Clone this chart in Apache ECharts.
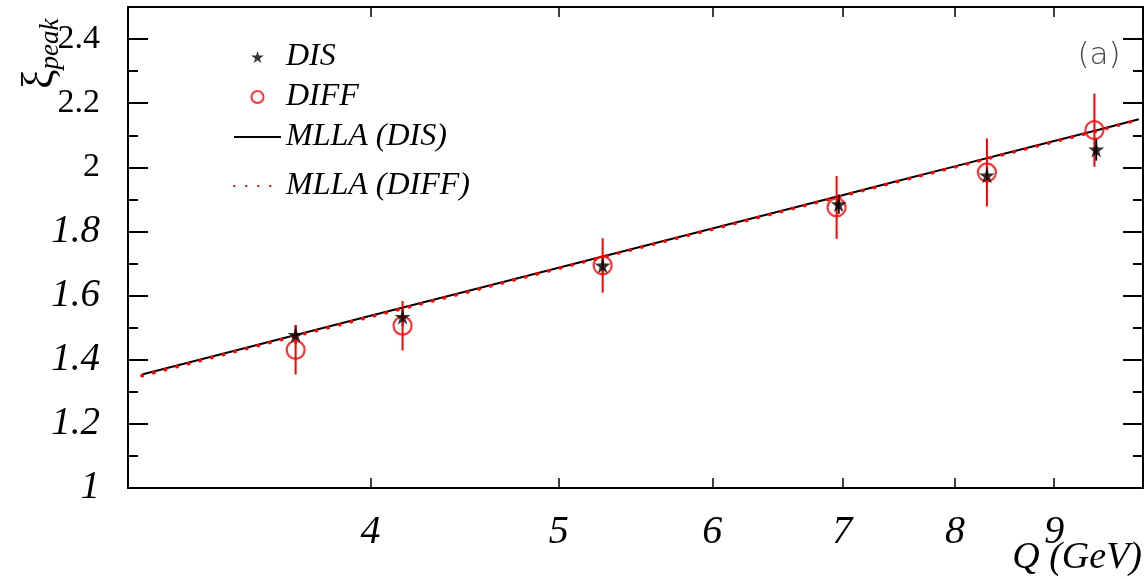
<!DOCTYPE html>
<html><head><meta charset="utf-8">
<script src="https://cdn.jsdelivr.net/npm/echarts@6/dist/echarts.min.js"></script>
<style>html,body{margin:0;padding:0;background:#fff}#c{width:1147px;height:579px}</style>
</head><body><div id="c"></div>
<script>
// ---- data ----
const qDis = [3.66, 4.155, 5.268, 6.97, 8.31, 9.46];
const disY = [1.478, 1.534, 1.694, 1.885, 1.975, 2.056];
const disErr = [0.03, 0.03, 0.03, 0.03, 0.03, 0.035];
const qDiff = [3.66, 4.155, 5.268, 6.953, 8.31, 9.44];
const diffY = [1.431, 1.506, 1.694, 1.875, 1.984, 2.116];
const diffErr = [0.077, 0.077, 0.085, 0.098, 0.106, 0.114];
const qLine = [3.05, 3.5, 4, 4.5, 5, 5.5, 6, 6.5, 7, 7.5, 8, 8.5, 9, 9.5, 9.95];
const mllaDis = [1.354, 1.447, 1.537, 1.616, 1.687, 1.751, 1.809, 1.863, 1.913, 1.960, 2.003, 2.044, 2.082, 2.118, 2.150];
const mllaDiff = [1.350, 1.444, 1.534, 1.613, 1.685, 1.749, 1.807, 1.861, 1.911, 1.958, 2.001, 2.042, 2.080, 2.116, 2.149];
const xTicks = [4, 5, 6, 7, 8, 9];
const yMajor = [1, 1.2, 1.4, 1.6, 1.8, 2, 2.2, 2.4];
const yMinor = [1.1, 1.3, 1.5, 1.7, 1.9, 2.1, 2.3];

const SERIF = '"Liberation Serif","DejaVu Serif",serif';
const STAR = 'path://M50,0 L61,35 L98,35 L68,57 L79,91 L50,70 L21,91 L32,57 L2,35 L39,35 Z';

const chart = echarts.init(document.getElementById('c'));

function xAx(pos, showLabel) {
  return {
    type: 'log', logBase: 10, min: 3, max: 10, position: pos,
    axisLine: {show: true, onZero: false, lineStyle: {color: '#000', width: 2}},
    axisTick: {show: true, inside: true, length: 10, customValues: xTicks, lineStyle: {color: '#000', width: 1.5}},
    minorTick: {show: false},
    splitLine: {show: false},
    axisLabel: {show: showLabel, customValues: xTicks, margin: 24, color: '#000',
      fontFamily: SERIF, fontStyle: 'italic', fontSize: 40}
  };
}
function yAx(pos, ticks, len, showLabel, showLine) {
  return {
    type: 'value', min: 1, max: 2.5, position: pos,
    axisLine: {show: showLine, onZero: false, lineStyle: {color: '#000', width: 2}},
    axisTick: {show: true, inside: true, length: len, customValues: ticks, lineStyle: {color: '#000', width: 2}},
    splitLine: {show: false},
    axisLabel: {show: showLabel, customValues: ticks, margin: 28,
      formatter: function (v) {
        const s = String(Math.round(v * 10) / 10);
        return v >= 1.95 ? '{u|' + s + '}' : '{i|' + s + '}';
      },
      rich: {
        u: {fontFamily: SERIF, fontSize: 34, color: '#000'},
        i: {fontFamily: SERIF, fontSize: 39, fontStyle: 'italic', color: '#000'}
      }
    }
  };
}

function errRender(color) {
  return function (params, api) {
    const x = api.value(0);
    const p1 = api.coord([x, api.value(1)]);
    const p2 = api.coord([x, api.value(2)]);
    return {type: 'line', shape: {x1: p1[0], y1: p1[1], x2: p2[0], y2: p2[1]},
      style: {stroke: color, lineWidth: 2}};
  };
}

const disPts = qDis.map((q, i) => [q, disY[i]]);
const diffPts = qDiff.map((q, i) => [q, diffY[i]]);
const disBars = qDis.map((q, i) => [q, disY[i] - disErr[i], disY[i] + disErr[i]]);
const diffBars = qDiff.map((q, i) => [q, diffY[i] - diffErr[i], diffY[i] + diffErr[i]]);

const legendText = {fontFamily: SERIF, fontStyle: 'italic', fontSize: 32, color: '#000'};

chart.setOption({
  animation: false,
  backgroundColor: '#fff',
  grid: {left: 128, right: 4, top: 7, bottom: 91},
  xAxis: [xAx('bottom', true), xAx('top', false)],
  yAxis: [yAx('left', yMajor, 20, true, true), yAx('left', yMinor, 10, false, false),
          yAx('right', yMajor, 20, false, true), yAx('right', yMinor, 10, false, false)],
  legend: [{
    orient: 'vertical', left: 228, top: 36, itemWidth: 47, itemHeight: 12, itemGap: 8,
    data: ['DIS', 'DIFF', {name: 'MLLA (DIS)', itemStyle: {opacity: 0}}],
    textStyle: legendText
  }, {
    orient: 'vertical', left: 228, top: 165, itemWidth: 47, itemHeight: 12,
    data: [{name: 'MLLA (DIFF)', itemStyle: {opacity: 0}}],
    textStyle: legendText
  }],
  graphic: [
    {type: 'text', x: 40, y: 89, rotation: Math.PI / 2,
      style: {text: '{xi|ξ}{sub|peak}', align: 'left', verticalAlign: 'middle',
        rich: {xi: {fontFamily: SERIF, fontSize: 44, fill: '#000'},
               sub: {fontFamily: SERIF, fontSize: 27, fontStyle: 'italic', fill: '#000', padding: [22, 0, 0, 0]}}}},
    {type: 'text', x: 1142, y: 558,
      style: {text: 'Q (GeV)', align: 'right', verticalAlign: 'middle', fontFamily: SERIF,
        fontStyle: 'italic', fontSize: 38, fill: '#000'}},
    {type: 'text', x: 1099, y: 56,
      style: {text: '(a)', align: 'center', verticalAlign: 'middle', fontFamily: '"DejaVu Sans",sans-serif',
        fontWeight: 200, fontSize: 31, fill: '#444'}}
  ],
  series: [
    {name: 'MLLA (DIS)', type: 'line', data: qLine.map((q, i) => [q, mllaDis[i]]), symbol: 'none',
      lineStyle: {color: '#000', width: 2}, itemStyle: {color: '#000'}, z: 2},
    {name: 'MLLA (DIFF)', type: 'line', data: qLine.map((q, i) => [q, mllaDiff[i]]), symbol: 'none',
      lineStyle: {color: '#f00', width: 3.5, type: [0.5, 11.5], cap: 'round'}, itemStyle: {color: '#f00'}, z: 3},
    {name: 'disErr', type: 'custom', data: disBars, renderItem: errRender('#000'), z: 4, silent: true},
    {name: 'diffErr', type: 'custom', data: diffBars, renderItem: errRender('#f00'), z: 4, silent: true},
    {name: 'DIFF', type: 'scatter', data: diffPts, symbol: 'circle', symbolSize: 18,
      itemStyle: {color: 'transparent', borderColor: '#f00', borderWidth: 2.2}, z: 5},
    {name: 'DIS', type: 'scatter', data: disPts, symbol: STAR, symbolSize: 16,
      itemStyle: {color: '#000'}, z: 6}
  ]
});
</script></body></html>
